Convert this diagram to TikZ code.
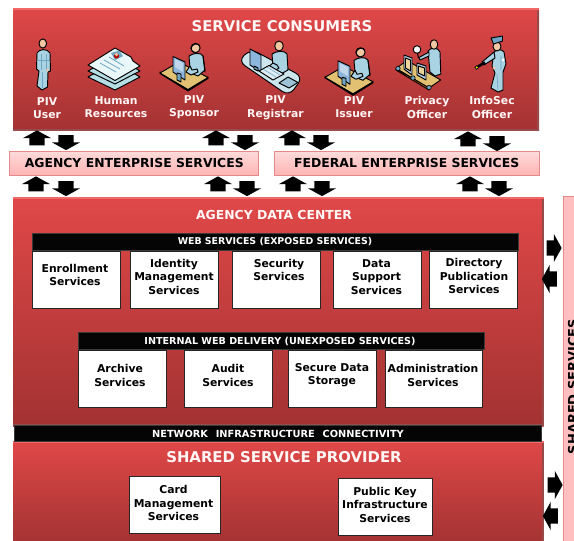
\documentclass[tikz,border=0pt]{standalone}
\usepackage{fontspec}
\setmainfont{DejaVu Sans}
\usetikzlibrary{shapes.arrows}
\definecolor{skin}{HTML}{F2C8A2}
\definecolor{suit}{HTML}{A9D2E2}
\definecolor{suitd}{HTML}{6FA6C4}
\definecolor{deskc}{HTML}{E2C272}
\definecolor{screenc}{HTML}{8DB6DC}
\definecolor{paper}{HTML}{EAF7F8}
\definecolor{paperd}{HTML}{B4DDE4}
\definecolor{paneltop}{HTML}{E04848}
\definecolor{panelbot}{HTML}{A33232}
\definecolor{barline}{HTML}{E58A8A}
\definecolor{barT}{HTML}{FDDADA}
\definecolor{barB}{HTML}{FFB4B4}
\definecolor{barline2}{HTML}{3A3A3A}
\definecolor{topedge}{HTML}{F06868}
\newcommand{\fs}[1]{\fontsize{#1}{#1}\selectfont\bfseries}
\tikzset{
  x=1pt,y=-1pt,
  redpanel/.style={rectangle,draw=none,inner sep=0,outer sep=0,top color=paneltop,bottom color=panelbot},
  palebar/.style={rectangle,draw=barline,line width=.8pt,top color=barT,bottom color=barB,inner sep=0,outer sep=0,text=black,font=\fs{12.4}},
  blackbar/.style={rectangle,draw=barline2,line width=.8pt,fill=black!98,inner sep=0,outer sep=0,text=white},
  svcbox/.style={rectangle,draw=black!85,line width=.9pt,fill=white,inner sep=0,outer sep=0},
  svctext/.style={align=center,inner sep=0,font=\fontsize{10.8}{13.5}\selectfont\bfseries,text=black},
  whitelabel/.style={align=center,inner sep=0,font=\fontsize{10.8}{13.5}\selectfont\bfseries,text=white!96!red},
  paneltitle/.style={inner sep=0,text=white!96!red},
  blockarrow/.style={single arrow,fill=black,draw=none,inner xsep=0pt,inner ysep=7.5pt,outer sep=0,minimum height=15pt,minimum width=28pt,single arrow head extend=6.5pt,single arrow tip angle=122},
  ico/.style={draw=black,line width=.95pt,line join=round},
  thinline/.style={draw=suitd,line width=.6pt},
}
\newcommand{\rectnode}[7]{% style,name,x1,y1,x2,y2,text
  \pgfmathsetmacro\cx{(#3+#5)/2}\pgfmathsetmacro\cy{(#4+#6)/2}
  \pgfmathsetmacro\bw{#5-#3}\pgfmathsetmacro\bh{#6-#4}
  \node[#1,minimum width=\bw pt,minimum height=\bh pt] (#2) at (\cx,\cy) {#7};}
\newcommand{\redbox}[5]{% name,x1,y1,x2,y2
  \rectnode{redpanel}{#1}{#2}{#3}{#4}{#5}{}
  \fill[panelbot!70!gray] (#1.north east) ++(-2,1) rectangle (#1.south east);
  \fill[panelbot!65!gray] (#1.south west) ++(0,-2) rectangle (#1.south east);
  \fill[topedge] (#1.north west) rectangle ++(\bw,1.5);
}
\newcommand{\svc}[8]{% name,x1,y1,x2,y2,tx,ty,text
  \rectnode{svcbox}{#1}{#2}{#3}{#4}{#5}{}
  \node[svctext] (#1t) at (#6,#7) {#8};}
\newcommand{\deskicon}[2]{%
\begin{scope}[shift={(#1,#2)}]
  \draw[ico,fill=black] (160,73.5) -- (188,91) -- (208,78.5) -- (208,77) -- (188,89) -- (160,72) -- cycle;
  \draw[ico,fill=deskc] (160,73) -- (179,62) -- (208,77.5) -- (188,89.5) -- cycle;
  \draw[ico,fill=suit] (189,56) .. controls (193,53) and (201,52) .. (203,56) -- (205,70) -- (198,76) -- (193,74) -- (190,68) -- cycle;
  \draw[ico,fill=suit] (190,66) -- (186,72) -- (191,75) -- (198,72) -- (197,69) -- (192,70) -- cycle;
  \draw[line width=1pt] (203,56) -- (205,72);
  \draw[ico,fill=skin] (195.5,48) circle (4.6);
  \draw[line width=1pt] (191,49) .. controls (191,44) and (198,42) .. (200,46);
  \draw[line width=.7pt] (191.5,50) -- (194,53);
  \draw[ico,fill=screenc] (173,56.5) -- (185,62) -- (185,80) -- (173,72) -- cycle;
  \fill[white,opacity=.45] (175,59) -- (183,63) -- (183,72) -- (175,67) -- cycle;
  \draw[ico,fill=suitd] (177,73) -- (177,80) -- (181,82) -- (181,74) -- cycle;
\end{scope}}
\begin{document}
\begin{tikzpicture}
\useasboundingbox (0,0) rectangle (574,541);
\fill[white] (0,0) rectangle (574,541);
\clip (0,0) rectangle (574,541);

% shared services side bar
\rectnode{rectangle,draw=barline,line width=.8pt,fill=barB!85!white,inner sep=0,outer sep=0}{sharedbar}{563.5}{196.5}{580}{545}{}
\node[rotate=90,anchor=base,inner sep=0,text=black,font=\fs{13}] (sharedlabel) at (577.5,386.5) {SHARED SERVICES};

% main panels
\redbox{consumers}{13}{8}{539}{130.5}
\redbox{datacenter}{13}{197}{543.5}{426}
\redbox{provider}{13}{441}{543.5}{545}
\rectnode{blackbar}{netband}{14.5}{425}{541}{441.5}{}
\node[paneltitle,font=\fs{9.8},text=white] (nettext) at (278,433.5) {NETWORK\hspace{1pt}\ \ INFRASTRUCTURE\hspace{1pt}\ \ CONNECTIVITY};

\node[paneltitle,font=\fs{14.8}] (t1) at (282,26.5) {SERVICE CONSUMERS};
\node[paneltitle,font=\fs{12.4}] (t2) at (274,215) {AGENCY DATA CENTER};
\node[paneltitle,font=\fs{14.9}] (t3) at (284,457) {SHARED SERVICE PROVIDER};

% enterprise bars
\rectnode{palebar}{agency}{9.5}{151.5}{258}{175}{\hspace{1pt}AGENCY ENTERPRISE SERVICES}
\rectnode{palebar}{federal}{274.5}{151.5}{539}{175}{FEDERAL ENTERPRISE SERVICES\hspace{3pt}}

% block arrows
\foreach \n/\x/\y/\r in {
 a1/37/140/90, a2/66/140.5/-90, a3/216/140/90, a4/245/140.5/-90,
 a5/292/140/90, a6/321/140.5/-90, a7/468/141/90, a8/497/141.5/-90,
 b1/36/186/90, b2/66/186.5/-90, b3/218/186/90, b4/247/186.5/-90,
 b5/293/186/90, b6/322/186.5/-90, b7/470/186/90, b8/499/186.5/-90,
 c1/552/248/0, c2/551.5/279/180, c3/553/485/0, c4/552.5/516/180}
 {\node[blockarrow,rotate=\r] (\n) at (\x,\y) {};}

% web services
\rectnode{blackbar}{webhead}{32.5}{233}{518}{250.5}{}
\node[paneltitle,font=\fs{9.4},text=white] (webtext) at (275,242) {WEB SERVICES (EXPOSED SERVICES)};
\svc{s1}{32.5}{251}{120}{308}{75}{275}{Enrollment\\Services}
\svc{s2}{130.5}{251}{218}{308}{174}{276.5}{Identity\\Management\\Services}
\svc{s3}{232.5}{251}{320}{308}{279}{270}{Security\\Services}
\svc{s4}{333}{251}{421}{308}{376.5}{277}{Data\\Support\\Services}
\svc{s5}{429.5}{251}{517}{308}{474}{276}{Directory\\Publication\\Services}

% internal delivery
\rectnode{blackbar}{inthead}{78.5}{332}{484}{349.5}{}
\node[paneltitle,font=\fs{9.6},text=white] (inttext) at (280,341) {INTERNAL WEB DELIVERY (UNEXPOSED SERVICES)};
\svc{i1}{78}{350}{166}{407}{120}{375.5}{Archive\\Services}
\svc{i2}{184}{350}{272}{407}{228}{375.5}{Audit\\Services}
\svc{i3}{288}{350}{376}{407}{332}{375}{Secure Data\\Storage}
\svc{i4}{385.5}{350}{482}{407}{433}{375.5}{Administration\\Services}

% provider
\svc{p1}{129.5}{476}{220.5}{533.5}{173.5}{503}{Card\\Management\\Services}
\svc{p2}{338}{478}{432}{535}{385}{504.5}{Public Key\\Infrastructure\\Services}

% consumer labels
\node[whitelabel] (l1) at (47,108) {PIV\\User};
\node[whitelabel] (l2) at (116,107) {Human\\Resources};
\node[whitelabel] (l3) at (194,107) {PIV\\Sponsor};
\node[whitelabel] (l4) at (275.5,107.5) {PIV\\Registrar};
\node[whitelabel] (l5) at (354,107) {PIV\\Issuer};
\node[whitelabel] (l6) at (427,107.5) {Privacy\\Officer};
\node[whitelabel] (l7) at (492,107.5) {InfoSec\\Officer};

% --- icon: PIV User
\draw[ico,fill=suit] (37,53) .. controls (39,49) and (47,48) .. (50,53) -- (50.5,71) -- (48,72) -- (47.5,87) -- (42,90) -- (37,86) -- (39,71) -- (36.5,69) -- cycle;
\draw[thinline] (41,54) -- (41,70) (46,54) -- (46,70) (38,60) -- (49,60) (42,72) -- (42,88);
\fill[skin] (47.5,70) circle (1.5);
\draw[ico,fill=skin] (42.8,43.5) ellipse (3.8 and 4.6);

% --- icon: Human Resources
\draw[ico,fill=paperd] (88,77) -- (115,62) -- (140,77) -- (115,90) -- cycle;
\draw[ico,fill=paperd] (88,71) -- (115,56) -- (140,71) -- (115,84) -- cycle;
\draw[ico,fill=paper] (88,65) -- (115,48) -- (131,57) -- (133,61) -- (140,66) -- (115,80.5) -- cycle;
\draw[thinline,line width=.8pt] (100,63) -- (116,72) (104,60) -- (120,69) (109,57) -- (124,66);
\fill[suitd] (111,53) -- (119,50.5) -- (123,56) -- (115,60) -- cycle;
\fill[red!70!black] (116.5,56) circle (2.6);
\fill[skin] (116.5,54.5) circle (1.8);

% --- icons: PIV Sponsor, PIV Issuer
\deskicon{0}{0}
\deskicon{165}{4.3}

% --- icon: PIV Registrar
\draw[ico,fill=paper!55!suit,rounded corners=8pt] (238,61) -- (251,49) -- (303,77) -- (289,96) -- cycle;
\draw[ico,fill=suit] (272,54) .. controls (276,51) and (285,50) .. (287,54) -- (288,70) -- (281,74) -- (276,72) -- (273,66) -- cycle;
\draw[ico,fill=skin] (279,46) ellipse (4.3 and 5);
\draw[ico,fill=suit] (273,63) -- (267,68) -- (271,73) -- (279,68) -- (277,65) -- cycle;
\draw[ico,fill=screenc] (250,49) -- (261,55) -- (261,72) -- (250,65) -- cycle;
\draw[ico,fill=suitd] (254,66) -- (254,69) -- (258,71) -- (258,68) -- cycle;
\draw[ico,fill=white!60!suit] (259,71) -- (269,65.5) -- (284,74) -- (273,80) -- cycle;
\draw[thinline] (263,69) -- (276,77) (267,67) -- (280,75);
\draw[ico,fill=suitd!70!white] (279,83) -- (288,77) -- (298,82.5) -- (289,88) -- cycle;

% --- icon: Privacy Officer
\draw[ico,fill=deskc] (396,68.5) -- (407,60.5) -- (440.7,80) -- (429,88) -- cycle;
\draw[ico,fill=orange!70!deskc] (396,68.5) -- (429,88) -- (429,90) -- (396,70) -- cycle;
\draw[ico,fill=suit] (428,51) .. controls (431,47) and (438,47) .. (440,52) -- (440.8,74) -- (435,76) -- (430,72) -- cycle;
\draw[ico,fill=skin] (434,44.5) ellipse (3.8 and 4.8);
\draw[ico,fill=suit] (429,56) -- (420,60) -- (419,57.5) -- (429,52) -- cycle;
\draw[ico,fill=white] (417,49.5) circle (3.8);
\draw[line width=1pt] (417.5,53) -- (418.5,58);
\draw[ico,fill=screenc!60!white] (404,55) -- (412,58) -- (412,75) -- (404,69) -- cycle;
\draw[ico,fill=deskc!70!white] (405.5,58) -- (410.5,60) -- (410.5,71) -- (405.5,68) -- cycle;
\draw[ico,fill=screenc!60!white] (417,63) -- (426,66) -- (426,80) -- (417,75) -- cycle;
\draw[ico,fill=deskc!70!white] (418.5,66) -- (424.5,68) -- (424.5,76) -- (418.5,73) -- cycle;
\foreach \rx/\ry in {398/68.5,413/78,429/87.5} \draw[line width=.6pt,fill=suitd] (\rx,\ry) circle (2.2);

% --- icon: InfoSec Officer
\draw[ico,fill=suit] (494,52) .. controls (497,49) and (502,49) .. (504,52) -- (506,64) -- (503,72) -- (503,90) -- (498,92) -- (491,88) -- (495,73) -- (492,66) -- cycle;
\draw[thinline] (497,74) -- (498,90) (501,56) -- (501,70);
\fill[white] (503,60) circle (1.5);
\draw[ico,fill=suit] (494,52) -- (482,62) -- (484,65) -- (495,58) -- cycle;
\fill[skin] (494,68) circle (1.7);
\draw[ico,fill=skin] (497,46.5) ellipse (4 and 4.5);
\draw[ico,fill=suitd] (491,38) -- (502.5,36) -- (502.5,41) -- (493.5,44) -- cycle;
\draw[line width=2.6pt,black] (478,66.5) -- (485,62.5);
\draw[line width=.7pt,fill=yellow] (476.7,67.5) circle (1.9);
\end{tikzpicture}
\end{document}
